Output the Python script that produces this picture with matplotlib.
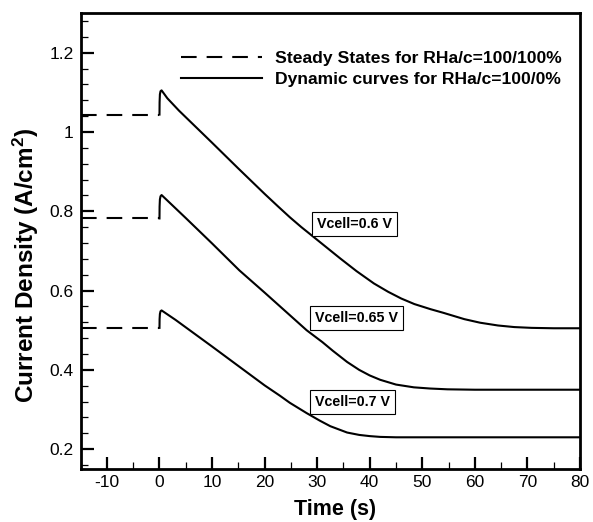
import numpy as np
import matplotlib
matplotlib.use("Agg")
import matplotlib.pyplot as plt
from matplotlib.ticker import MultipleLocator, FuncFormatter

plt.rcParams['font.family'] = ['Liberation Sans', 'DejaVu Sans']
plt.rcParams['mathtext.default'] = 'regular'
plt.rcParams['axes.unicode_minus'] = False

# steady states (RHa/c = 100/100%), drawn from left edge up to t=0
steady_t = [-15, 0]
steady_06 = [1.044, 1.044]
steady_065 = [0.782, 0.782]
steady_07 = [0.506, 0.506]

# dynamic curves (RHa/c = 100/0%)
t_06 = [0, 0.02, 0.08, 0.2, 0.4, 1.5, 3.7, 10, 15, 20, 22.5, 24.8, 27, 28.6, 31.5, 34.4,
        37.5, 40.8, 43.5, 46, 48.5, 51.6, 54, 58, 61, 64.4, 67.5, 70.8, 75, 80]
cd_06 = [1.044, 1.075, 1.095, 1.103, 1.105, 1.085, 1.054, 0.973, 0.908, 0.844,
         0.813, 0.785, 0.760, 0.743, 0.712, 0.681, 0.649, 0.618, 0.597, 0.580, 0.566, 0.553,
         0.544, 0.528, 0.519, 0.512, 0.508, 0.506, 0.505, 0.505]

t_065 = [0, 0.02, 0.08, 0.2, 0.4, 5, 10, 15.2, 20, 24.8, 28, 31, 33, 35.7,
         38, 40, 42, 45, 48.4, 51.5, 54.8, 60, 70, 80]
cd_065 = [0.782, 0.812, 0.830, 0.838, 0.841, 0.783, 0.719, 0.651, 0.595, 0.538,
          0.500, 0.470, 0.448, 0.420, 0.400, 0.386, 0.375, 0.363, 0.356, 0.353,
          0.351, 0.350, 0.350, 0.350]

t_07 = [0, 0.02, 0.08, 0.2, 0.4, 3.07, 10, 15.2, 20, 22.9, 24.8, 28, 30.5,
        32.5, 35.7, 38, 40, 42, 45, 50, 60, 80]
cd_07 = [0.506, 0.528, 0.541, 0.548, 0.550, 0.526, 0.459, 0.408, 0.361, 0.335,
         0.317, 0.291, 0.272, 0.258, 0.242, 0.236, 0.233, 0.231, 0.230, 0.230,
         0.230, 0.230]

labels = ['Vcell=0.6 V', 'Vcell=0.65 V', 'Vcell=0.7 V']
label_pos = [(37.1, 0.769), (37.5, 0.531), (36.7, 0.319)]

fig = plt.figure(figsize=(5.93, 5.22), dpi=100)
ax = fig.add_axes([0.136, 0.1015, 0.842, 0.8735])

dash = (0, (7.5, 4.8))
h1, = ax.plot(steady_t, steady_06, color='black', lw=1.5, linestyle=dash)
ax.plot(steady_t, steady_065, color='black', lw=1.5, linestyle=dash)
ax.plot(steady_t, steady_07, color='black', lw=1.5, linestyle=dash)

h2, = ax.plot(t_06, cd_06, color='black', lw=1.5)
ax.plot(t_065, cd_065, color='black', lw=1.5)
ax.plot(t_07, cd_07, color='black', lw=1.5)

for lab, (x, y) in zip(labels, label_pos):
    ax.text(x, y, lab, ha='center', va='center', fontsize=10.3, fontweight='bold',
            bbox=dict(boxstyle='square,pad=0.35', fc='white', ec='black', lw=0.8))

ax.set_xlim(-15, 80)
ax.set_ylim(0.15, 1.3)

ax.xaxis.set_major_locator(MultipleLocator(10))
ax.xaxis.set_minor_locator(MultipleLocator(5))
ax.yaxis.set_major_locator(MultipleLocator(0.2))
ax.yaxis.set_minor_locator(MultipleLocator(0.04))
ax.yaxis.set_major_formatter(FuncFormatter(lambda y, _: '%g' % round(y, 2)))

ax.tick_params(which='both', direction='in', top=False, right=False, labelsize=12.5)
ax.tick_params(which='major', length=9, width=1.6)
ax.tick_params(which='minor', length=5, width=0.9)
ax.tick_params(axis='y', pad=5)
ax.tick_params(axis='x', pad=4)
for s in ax.spines.values():
    s.set_linewidth(2)

ax.set_xlabel('Time (s)', fontsize=15.5, fontweight='bold')
ax.set_ylabel('Current Density (A/cm$^2$)', fontsize=17.5, fontweight='bold')
ax.xaxis.set_label_coords(0.51, -0.066)
ax.yaxis.set_label_coords(-0.079, 0.447)

leg = ax.legend([h1, h2], ['Steady States for RHa/c=100/100%', 'Dynamic curves for RHa/c=100/0%'],
                loc='upper left', bbox_to_anchor=(181 / 593, 1 - 51 / 522),
                bbox_transform=fig.transFigure, frameon=False, borderpad=0,
                borderaxespad=0, handlelength=4.65, handletextpad=0.72,
                labelspacing=0.3, prop={'size': 12.6, 'weight': 'bold'})

fig.savefig('out.png', dpi=100)
